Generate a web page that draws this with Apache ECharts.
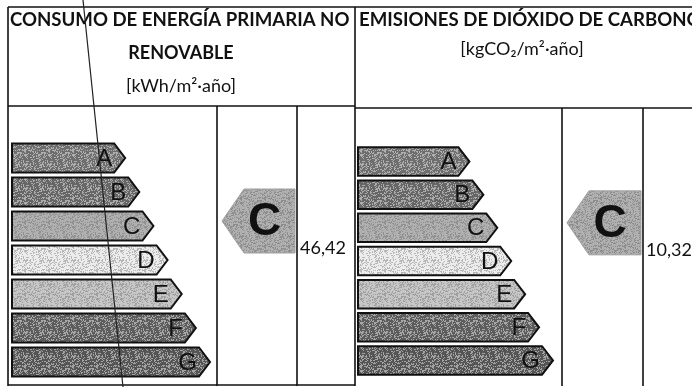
<!DOCTYPE html>
<html>
<head>
<meta charset="utf-8">
<script src="https://cdn.jsdelivr.net/npm/echarts@6/dist/echarts.min.js"></script>
<style>
  html, body { margin: 0; padding: 0; background: #fff; }
  #main { width: 692px; height: 387px; }
</style>
</head>
<body>
<div id="main"></div>
<script>
/* datos de la etiqueta */
var clases = ['A', 'B', 'C', 'D', 'E', 'F', 'G'];
var longitudes = [8, 9, 10, 11, 12, 13, 14];
var coloresClase = ['#6e6e6e', '#666666', '#b0b0b0', '#ececec', '#c6c6c6', '#5c5c5c', '#555555'];
var tituloConsumo = ['CONSUMO DE ENERGÍA PRIMARIA NO', 'RENOVABLE', '[kWh/m²·año]'];
var tituloEmisiones = ['EMISIONES DE DIÓXIDO DE CARBONO', '[kgCO₂/m²·año]'];
var calificacion = ['C', 'C'];
var valores = ['46,42', '10,32'];

var myChart = echarts.init(document.getElementById('main'));
var fuente = 'Lato';

/* textura de escaneo (patron fijo, no aleatorio) */
function textura(color, claro) {
  var cv = document.createElement('canvas');
  cv.width = 24; cv.height = 24;
  var ctx = cv.getContext('2d');
  ctx.fillStyle = color;
  ctx.fillRect(0, 0, 24, 24);
  ctx.fillStyle = claro;
  for (var y = 0; y < 24; y++) {
    for (var x = 0; x < 24; x++) {
      var h = Math.abs(Math.sin(x * 12.9898 + y * 78.233) * 43758.5453) % 1;
      if (h < 0.28) ctx.fillRect(x, y, 1, 1);
    }
  }
  return { image: cv, repeat: 'repeat' };
}
var texturas = coloresClase.map(function (c) {
  var oscuro = parseInt(c.slice(1, 3), 16) < 140;
  return textura(c, oscuro ? 'rgba(230,230,230,0.55)' : 'rgba(90,90,90,0.35)');
});
var texturaCalif = textura('#b0b0b0', 'rgba(80,80,80,0.35)');

/* flechas de clases */
function barrasItem(params, api) {
  var idx = api.value(1);
  var fin = api.coord([api.value(0), idx]);
  var ini = api.coord([0, idx]);
  var h = api.size([0, 1])[1] * 0.86;
  var x0 = ini[0], x1 = fin[0], cy = fin[1];
  var punta = 11;
  return {
    type: 'group',
    children: [{
      type: 'polygon',
      shape: { points: [[x0, cy - h / 2], [x1 - punta, cy - h / 2], [x1, cy], [x1 - punta, cy + h / 2], [x0, cy + h / 2]] },
      style: { fill: texturas[idx], stroke: '#111', lineWidth: 2 }
    }, {
      type: 'text',
      style: {
        text: clases[idx], x: x1 - punta - 2, y: cy + 1,
        align: 'right', verticalAlign: 'middle',
        font: '24px "Liberation Sans"', fill: '#111'
      }
    }]
  };
}

/* flecha de calificacion */
function calificacionItem(n) {
  return function (params, api) {
    var idx = api.value(0);
    var c = api.coord([0, idx]);
    var cs = params.coordSys;
    var x0 = cs.x + 5, x1 = cs.x + cs.width - 2;
    var cy = c[1] - 5, h = 64;
    return {
      type: 'group',
      children: [{
        type: 'polygon',
        shape: { points: [[x0, cy], [x0 + 22, cy - h / 2], [x1, cy - h / 2], [x1, cy + h / 2], [x0 + 22, cy + h / 2]] },
        style: { fill: texturaCalif, stroke: '#a0a0a0', lineWidth: 1 }
      }, {
        type: 'text',
        style: {
          text: calificacion[n], x: (x0 + x1) / 2 + 6, y: cy + 1,
          align: 'center', verticalAlign: 'middle',
          font: 'bold 46px "Liberation Sans"', fill: '#111'
        }
      }]
    };
  };
}

function valorItem(n) {
  return function (params, api) {
    var c = api.coord([0, api.value(0)]);
    var cs = params.coordSys;
    return {
      type: 'text',
      style: {
        text: valores[n], x: cs.x + 3, y: c[1] + 22,
        align: 'left', verticalAlign: 'middle',
        font: '18px "' + fuente + '"', fill: '#111'
      }
    };
  };
}

var paneles = [
  { barras: { left: 12, top: 141, width: 198, height: 238 }, calif: { left: 217, top: 141, width: 80, height: 238 }, valor: { left: 297, top: 141, width: 58, height: 238 } },
  { barras: { left: 358, top: 145, width: 195, height: 232 }, calif: { left: 562, top: 145, width: 81, height: 232 }, valor: { left: 643, top: 145, width: 49, height: 232 } }
];

var grids = [], xAxes = [], yAxes = [], series = [];
paneles.forEach(function (p, n) {
  [p.barras, p.calif, p.valor].forEach(function (g) {
    var gi = grids.length;
    grids.push(g);
    xAxes.push({ type: 'value', gridIndex: gi, min: 0, max: 14, show: false });
    yAxes.push({ type: 'category', gridIndex: gi, data: clases, inverse: true, show: false });
  });
  var base = n * 3;
  series.push({
    type: 'custom', xAxisIndex: base, yAxisIndex: base,
    renderItem: barrasItem,
    data: longitudes.map(function (v, i) { return [v, i]; })
  });
  var ci = clases.indexOf(calificacion[n]);
  series.push({
    type: 'custom', xAxisIndex: base + 1, yAxisIndex: base + 1,
    renderItem: calificacionItem(n), data: [[ci]]
  });
  series.push({
    type: 'custom', xAxisIndex: base + 2, yAxisIndex: base + 2,
    renderItem: valorItem(n), data: [[ci]]
  });
});

/* tabla y textos */
var negro = { stroke: '#111', lineWidth: 1.6 };
function linea(x1, y1, x2, y2) {
  return { type: 'line', shape: { x1: x1, y1: y1, x2: x2, y2: y2 }, style: negro, z: 10 };
}
var graficos = [
  linea(8, 7, 692, 7),
  linea(8, 7, 8, 386),
  linea(355, 7, 355, 386),
  linea(8, 106, 355, 106),
  linea(355, 108, 692, 108),
  linea(217, 106, 217, 386),
  linea(297, 106, 297, 386),
  linea(562, 108, 562, 386),
  linea(643, 108, 643, 386),
  linea(8, 385, 355, 385),
  { type: 'line', shape: { x1: 83, y1: 0, x2: 123, y2: 387 }, style: { stroke: '#222', lineWidth: 1.2 }, z: 20 },
  { type: 'text', left: 10, top: 10, style: { text: tituloConsumo[0], font: 'bold 18.6px "' + fuente + '"', fill: '#111' } },
  { type: 'text', x: 181, y: 53, style: { text: tituloConsumo[1], align: 'center', verticalAlign: 'middle', font: 'bold 18px "' + fuente + '"', fill: '#111' } },
  { type: 'text', x: 181, y: 86, style: { text: tituloConsumo[2], align: 'center', verticalAlign: 'middle', font: '18px "' + fuente + '"', fill: '#111' } },
  { type: 'text', left: 359, top: 10, style: { text: tituloEmisiones[0], font: 'bold 18.6px "' + fuente + '"', fill: '#111' } },
  { type: 'text', x: 522, y: 49, style: { text: tituloEmisiones[1], align: 'center', verticalAlign: 'middle', font: '18px "' + fuente + '"', fill: '#111' } }
];

option = {
  animation: false,
  backgroundColor: '#fff',
  grid: grids,
  xAxis: xAxes,
  yAxis: yAxes,
  series: series,
  graphic: graficos
};
myChart.setOption(option);
</script>
</body>
</html>
